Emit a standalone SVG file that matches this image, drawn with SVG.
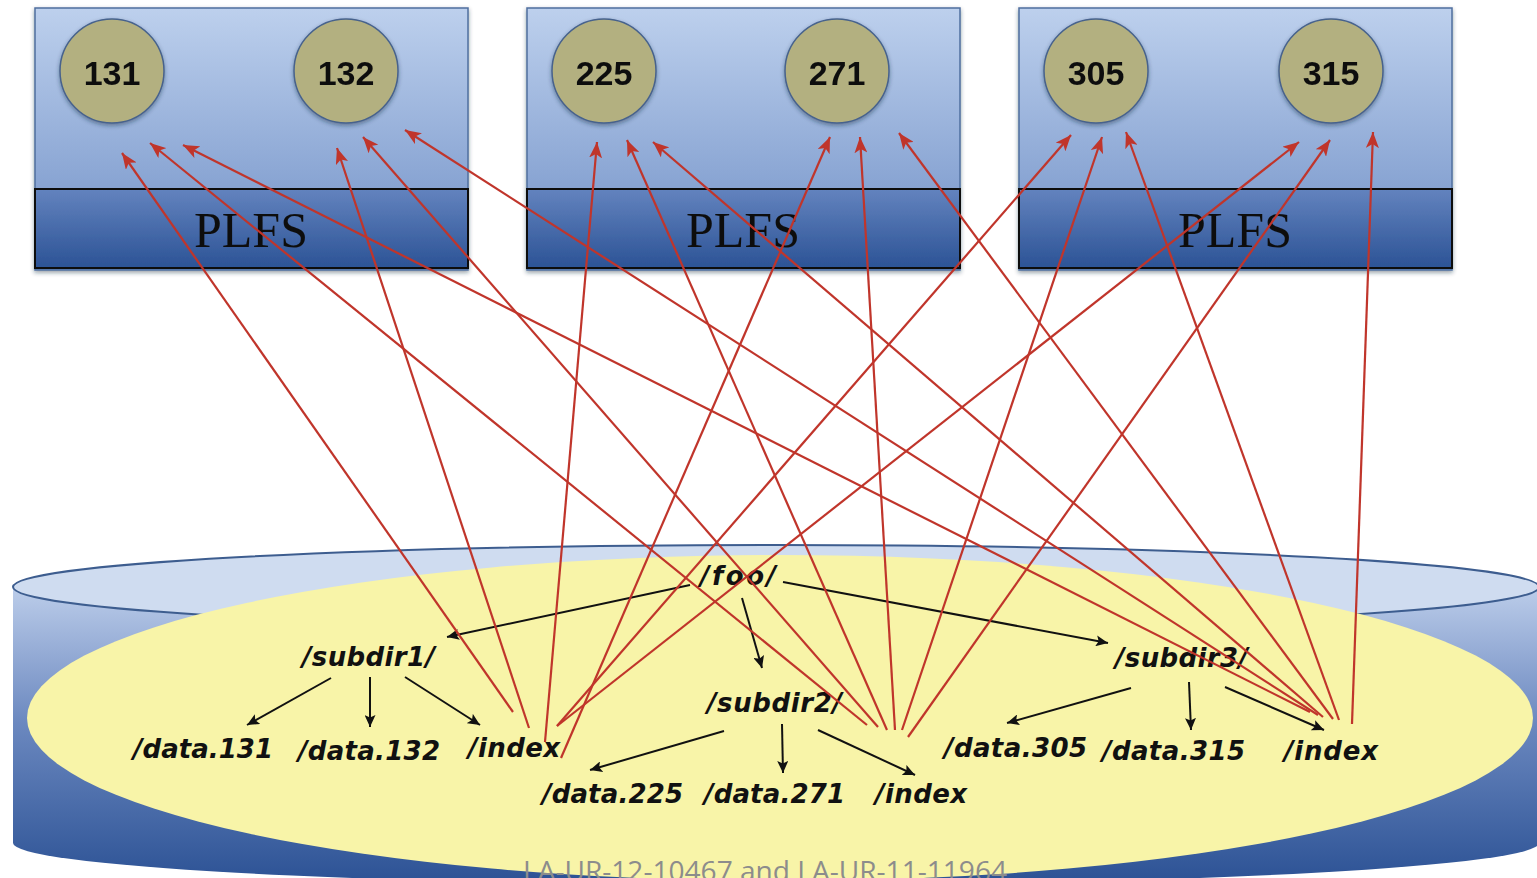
<svg xmlns="http://www.w3.org/2000/svg" width="1537" height="878" viewBox="0 0 1537 878">
<defs>
<linearGradient id="gTop" x1="0" y1="0" x2="0" y2="1">
<stop offset="0" stop-color="#bdd0ed"/><stop offset="1" stop-color="#6f8fc6"/>
</linearGradient>
<linearGradient id="gBand" x1="0" y1="0" x2="0" y2="1">
<stop offset="0" stop-color="#6383be"/><stop offset="1" stop-color="#2c5396"/>
</linearGradient>
<linearGradient id="gCyl" x1="0" y1="0" x2="0" y2="1">
<stop offset="0" stop-color="#bccdea"/><stop offset="0.45" stop-color="#6c89c0"/><stop offset="1" stop-color="#2b5194"/>
</linearGradient>
<filter id="sh" x="-20%" y="-20%" width="140%" height="140%">
<feDropShadow dx="0" dy="2" stdDeviation="2" flood-color="#1a2a40" flood-opacity="0.45"/>
</filter>
<marker id="ar" markerUnits="userSpaceOnUse" markerWidth="17" markerHeight="13" refX="16" refY="6.5" orient="auto">
<path d="M0,0 L16,6.5 L0,13 L4,6.5 z" fill="#c0352b"/>
</marker>
<marker id="ab" markerUnits="userSpaceOnUse" markerWidth="13" markerHeight="11" refX="12" refY="5.5" orient="auto">
<path d="M0,0 L12,5.5 L0,11 L2.5,5.5 z" fill="#111"/>
</marker>
<style>
.box{fill:url(#gTop);stroke:#4f6f9f;stroke-width:1.5}
.band{fill:url(#gBand);stroke:#111;stroke-width:2}
.plfs{font-family:"Liberation Serif",serif;font-size:50px;fill:#111;text-anchor:middle}
.node{fill:#b3b080;stroke:#47628c;stroke-width:1.5}
.num{font-family:"Liberation Sans",Arial,sans-serif;font-weight:bold;font-size:34px;fill:#111;text-anchor:middle}
.dir{font-family:"DejaVu Sans",sans-serif;font-weight:bold;font-style:italic;font-size:26px;fill:#111}
.red{stroke:#c0352b;stroke-width:2.2;fill:none;marker-end:url(#ar)}
.blk{stroke:#111;stroke-width:2;fill:none;marker-end:url(#ab)}
.cap{font-family:"Open Sans",sans-serif;font-size:28px;fill:#8c8c8c}
</style>
</defs>
<rect width="1537" height="878" fill="#ffffff"/>

<g id="storage">
<path d="M13,587 L13,843 A763,42 0 0 0 1539,843 L1539,587 Z" fill="url(#gCyl)"/>
<ellipse cx="776" cy="587" rx="763" ry="42" fill="#cfdcf0" stroke="#3d5d8f" stroke-width="2"/>
<ellipse cx="780" cy="718" rx="753" ry="163" fill="#f8f4a8"/>
<text class="cap" x="523" y="881" textLength="484" lengthAdjust="spacingAndGlyphs">LA-UR-12-10467 and LA-UR-11-11964</text>
</g>

<g id="plfs1" filter="url(#sh)">
<rect class="box" x="35" y="8" width="433" height="262"/>
<rect class="band" x="35" y="189" width="433" height="79"/>
<text class="plfs" x="251" y="247">PLFS</text>
</g>
<g id="plfs2" filter="url(#sh)">
<rect class="box" x="527" y="8" width="433" height="262"/>
<rect class="band" x="527" y="189" width="433" height="79"/>
<text class="plfs" x="743" y="247">PLFS</text>
</g>
<g id="plfs3" filter="url(#sh)">
<rect class="box" x="1019" y="8" width="433" height="262"/>
<rect class="band" x="1019" y="189" width="433" height="79"/>
<text class="plfs" x="1235" y="247">PLFS</text>
</g>

<g id="p131" filter="url(#sh)"><circle class="node" cx="112" cy="71" r="52"/><text class="num" x="112" y="85">131</text></g>
<g id="p132" filter="url(#sh)"><circle class="node" cx="346" cy="71" r="52"/><text class="num" x="346" y="85">132</text></g>
<g id="p225" filter="url(#sh)"><circle class="node" cx="604" cy="71" r="52"/><text class="num" x="604" y="85">225</text></g>
<g id="p271" filter="url(#sh)"><circle class="node" cx="837" cy="71" r="52"/><text class="num" x="837" y="85">271</text></g>
<g id="p305" filter="url(#sh)"><circle class="node" cx="1096" cy="71" r="52"/><text class="num" x="1096" y="85">305</text></g>
<g id="p315" filter="url(#sh)"><circle class="node" cx="1331" cy="71" r="52"/><text class="num" x="1331" y="85">315</text></g>

<g id="foo"><text class="dir" x="700" y="585" textLength="76" lengthAdjust="spacing">/foo/</text></g>
<g id="subdir1"><text class="dir" x="302" y="666" textLength="133" lengthAdjust="spacing">/subdir1/</text></g>
<g id="subdir2"><text class="dir" x="707" y="712" textLength="135" lengthAdjust="spacing">/subdir2/</text></g>
<g id="subdir3"><text class="dir" x="1115" y="667" textLength="133" lengthAdjust="spacing">/subdir3/</text></g>
<g id="data131"><text class="dir" x="133" y="758" textLength="140" lengthAdjust="spacing">/data.131</text></g>
<g id="data132"><text class="dir" x="298" y="760" textLength="142" lengthAdjust="spacing">/data.132</text></g>
<g id="index1"><text class="dir" x="468" y="757" textLength="92" lengthAdjust="spacing">/index</text></g>
<g id="data225"><text class="dir" x="542" y="803" textLength="141" lengthAdjust="spacing">/data.225</text></g>
<g id="data271"><text class="dir" x="704" y="803" textLength="141" lengthAdjust="spacing">/data.271</text></g>
<g id="index2"><text class="dir" x="875" y="803" textLength="92" lengthAdjust="spacing">/index</text></g>
<g id="data305"><text class="dir" x="944" y="757" textLength="143" lengthAdjust="spacing">/data.305</text></g>
<g id="data315"><text class="dir" x="1102" y="760" textLength="143" lengthAdjust="spacing">/data.315</text></g>
<g id="index3"><text class="dir" x="1284" y="760" textLength="94" lengthAdjust="spacing">/index</text></g>

<g id="connectors">
<line class="blk" x1="690" y1="585" x2="447" y2="637"/>
<line class="blk" x1="742" y1="598" x2="762" y2="668"/>
<line class="blk" x1="783" y1="582" x2="1108" y2="643"/>
<line class="blk" x1="331" y1="678" x2="247" y2="725"/>
<line class="blk" x1="370" y1="677" x2="370" y2="727"/>
<line class="blk" x1="405" y1="677" x2="480" y2="725"/>
<line class="blk" x1="724" y1="731" x2="590" y2="770"/>
<line class="blk" x1="782" y1="724" x2="783" y2="773"/>
<line class="blk" x1="818" y1="730" x2="915" y2="775"/>
<line class="blk" x1="1131" y1="688" x2="1007" y2="723"/>
<line class="blk" x1="1189" y1="682" x2="1191" y2="730"/>
<line class="blk" x1="1225" y1="687" x2="1324" y2="730"/>

<line class="red" x1="513" y1="712" x2="122" y2="153"/>
<line class="red" x1="529" y1="728" x2="337" y2="148"/>
<line class="red" x1="545" y1="742" x2="597" y2="142"/>
<line class="red" x1="561" y1="758" x2="830" y2="137"/>
<line class="red" x1="557" y1="726" x2="1071" y2="135"/>
<line class="red" x1="557" y1="726" x2="1299" y2="142"/>

<line class="red" x1="867" y1="725" x2="150" y2="143"/>
<line class="red" x1="878" y1="727" x2="363" y2="137"/>
<line class="red" x1="887" y1="730" x2="627" y2="140"/>
<line class="red" x1="895" y1="730" x2="860" y2="137"/>
<line class="red" x1="902" y1="730" x2="1102" y2="137"/>
<line class="red" x1="908" y1="737" x2="1330" y2="140"/>

<line class="red" x1="1310" y1="712" x2="183" y2="145"/>
<line class="red" x1="1318" y1="715" x2="405" y2="130"/>
<line class="red" x1="1323" y1="717" x2="653" y2="142"/>
<line class="red" x1="1333" y1="719" x2="899" y2="133"/>
<line class="red" x1="1339" y1="720" x2="1126" y2="132"/>
<line class="red" x1="1352" y1="724" x2="1373" y2="132"/>
</g>
</svg>
